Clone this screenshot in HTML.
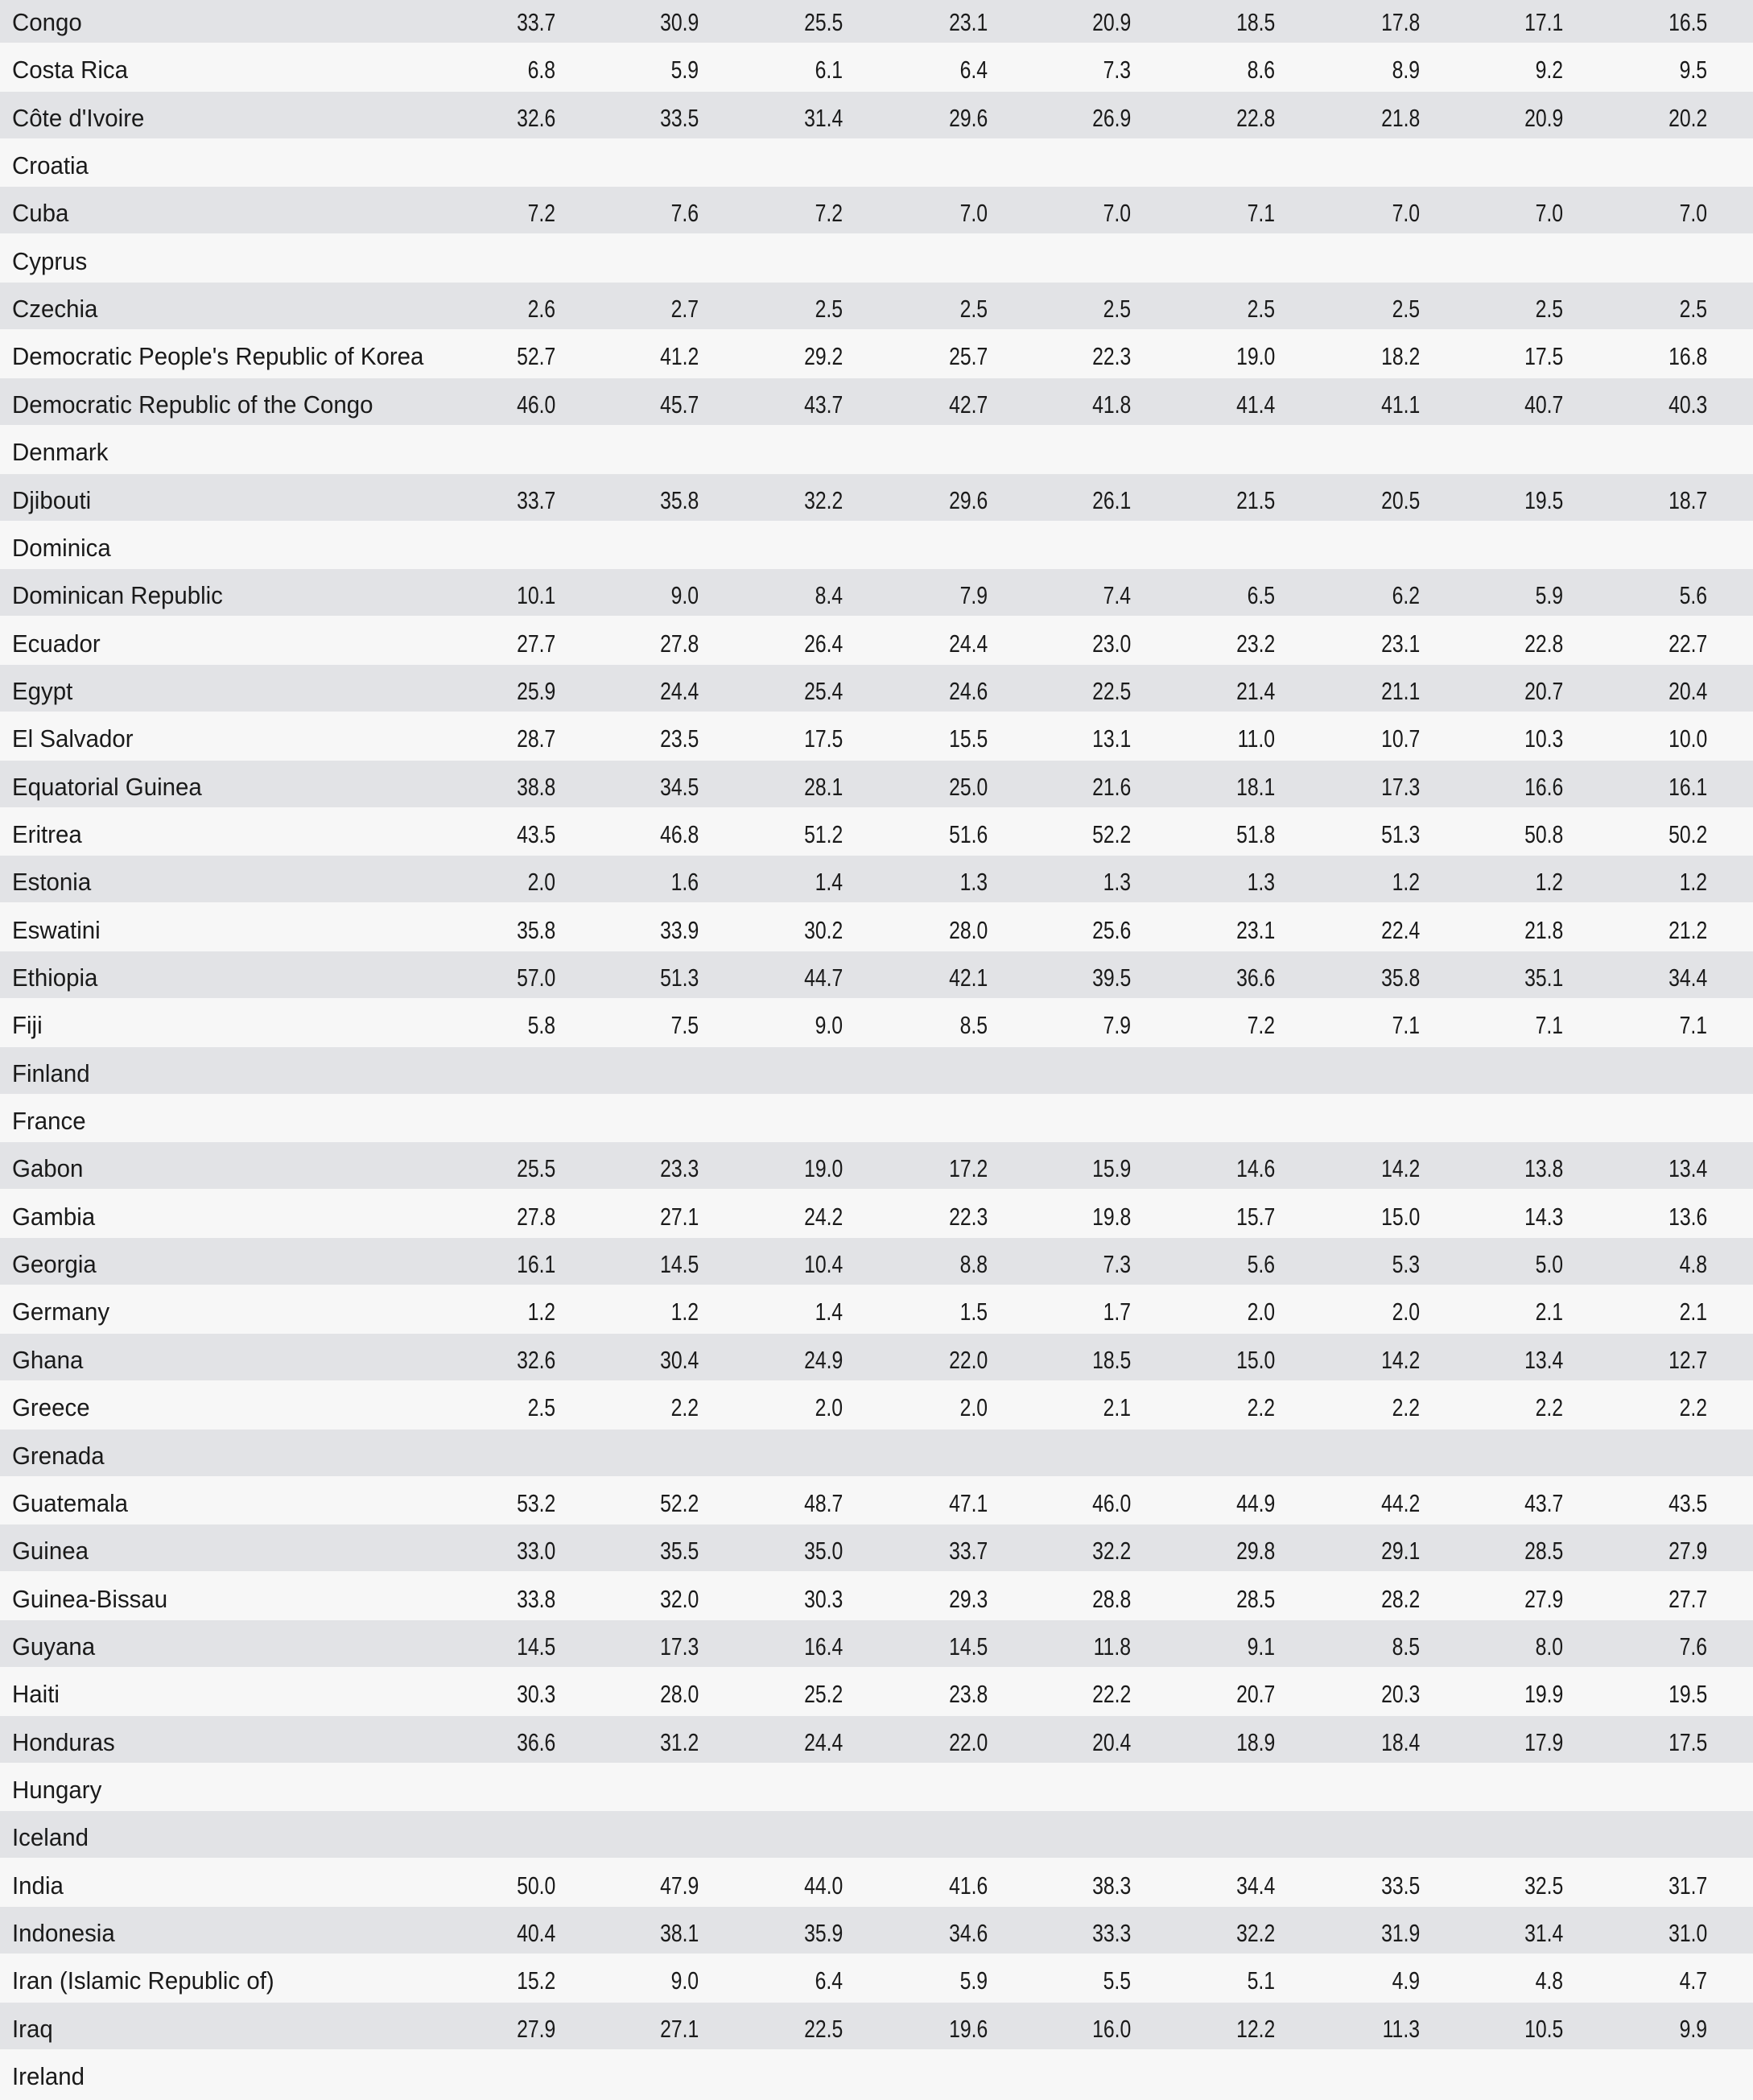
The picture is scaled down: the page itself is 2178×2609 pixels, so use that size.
<!DOCTYPE html>
<html><head><meta charset="utf-8"><style>
html,body{margin:0;padding:0;background:#f7f7f7}
body{width:2178px;height:2607px;position:relative;overflow:hidden;font-family:"Liberation Sans",sans-serif;font-size:31px;color:#1a1a1a}
.r{position:absolute;left:0;width:2178px;height:59.35px}
.g{background:#e2e3e6;height:58px}
.r span{position:absolute;top:3px;line-height:59.35px;white-space:nowrap}
.l{left:15px;transform:scaleX(0.95);transform-origin:left center}
.n{transform:scaleX(0.8);transform-origin:right center}
.c1{right:1488px}.c2{right:1310px}.c3{right:1131px}.c4{right:951px}.c5{right:773px}.c6{right:594px}.c7{right:414px}.c8{right:236px}.c9{right:57px}
</style></head><body>
<div id="t"></div>
<script>
var d=[
["Congo","33.7 30.9 25.5 23.1 20.9 18.5 17.8 17.1 16.5"],
["Costa Rica","6.8 5.9 6.1 6.4 7.3 8.6 8.9 9.2 9.5"],
["Côte d'Ivoire","32.6 33.5 31.4 29.6 26.9 22.8 21.8 20.9 20.2"],
["Croatia",""],
["Cuba","7.2 7.6 7.2 7.0 7.0 7.1 7.0 7.0 7.0"],
["Cyprus",""],
["Czechia","2.6 2.7 2.5 2.5 2.5 2.5 2.5 2.5 2.5"],
["Democratic People's Republic of Korea","52.7 41.2 29.2 25.7 22.3 19.0 18.2 17.5 16.8"],
["Democratic Republic of the Congo","46.0 45.7 43.7 42.7 41.8 41.4 41.1 40.7 40.3"],
["Denmark",""],
["Djibouti","33.7 35.8 32.2 29.6 26.1 21.5 20.5 19.5 18.7"],
["Dominica",""],
["Dominican Republic","10.1 9.0 8.4 7.9 7.4 6.5 6.2 5.9 5.6"],
["Ecuador","27.7 27.8 26.4 24.4 23.0 23.2 23.1 22.8 22.7"],
["Egypt","25.9 24.4 25.4 24.6 22.5 21.4 21.1 20.7 20.4"],
["El Salvador","28.7 23.5 17.5 15.5 13.1 11.0 10.7 10.3 10.0"],
["Equatorial Guinea","38.8 34.5 28.1 25.0 21.6 18.1 17.3 16.6 16.1"],
["Eritrea","43.5 46.8 51.2 51.6 52.2 51.8 51.3 50.8 50.2"],
["Estonia","2.0 1.6 1.4 1.3 1.3 1.3 1.2 1.2 1.2"],
["Eswatini","35.8 33.9 30.2 28.0 25.6 23.1 22.4 21.8 21.2"],
["Ethiopia","57.0 51.3 44.7 42.1 39.5 36.6 35.8 35.1 34.4"],
["Fiji","5.8 7.5 9.0 8.5 7.9 7.2 7.1 7.1 7.1"],
["Finland",""],
["France",""],
["Gabon","25.5 23.3 19.0 17.2 15.9 14.6 14.2 13.8 13.4"],
["Gambia","27.8 27.1 24.2 22.3 19.8 15.7 15.0 14.3 13.6"],
["Georgia","16.1 14.5 10.4 8.8 7.3 5.6 5.3 5.0 4.8"],
["Germany","1.2 1.2 1.4 1.5 1.7 2.0 2.0 2.1 2.1"],
["Ghana","32.6 30.4 24.9 22.0 18.5 15.0 14.2 13.4 12.7"],
["Greece","2.5 2.2 2.0 2.0 2.1 2.2 2.2 2.2 2.2"],
["Grenada",""],
["Guatemala","53.2 52.2 48.7 47.1 46.0 44.9 44.2 43.7 43.5"],
["Guinea","33.0 35.5 35.0 33.7 32.2 29.8 29.1 28.5 27.9"],
["Guinea-Bissau","33.8 32.0 30.3 29.3 28.8 28.5 28.2 27.9 27.7"],
["Guyana","14.5 17.3 16.4 14.5 11.8 9.1 8.5 8.0 7.6"],
["Haiti","30.3 28.0 25.2 23.8 22.2 20.7 20.3 19.9 19.5"],
["Honduras","36.6 31.2 24.4 22.0 20.4 18.9 18.4 17.9 17.5"],
["Hungary",""],
["Iceland",""],
["India","50.0 47.9 44.0 41.6 38.3 34.4 33.5 32.5 31.7"],
["Indonesia","40.4 38.1 35.9 34.6 33.3 32.2 31.9 31.4 31.0"],
["Iran (Islamic Republic of)","15.2 9.0 6.4 5.9 5.5 5.1 4.9 4.8 4.7"],
["Iraq","27.9 27.1 22.5 19.6 16.0 12.2 11.3 10.5 9.9"],
["Ireland",""]];
var h="";
d.forEach(function(r,i){
 h+='<div class="r'+(i%2==0?' g':'')+'" style="top:'+(-5+59.35*i)+'px"><span class="l">'+r[0]+'</span>';
 if(r[1]) r[1].split(" ").forEach(function(v,j){h+='<span class="n c'+(j+1)+'">'+v+'</span>';});
 h+='</div>';
});
document.getElementById("t").innerHTML=h;
</script>
</body></html>
